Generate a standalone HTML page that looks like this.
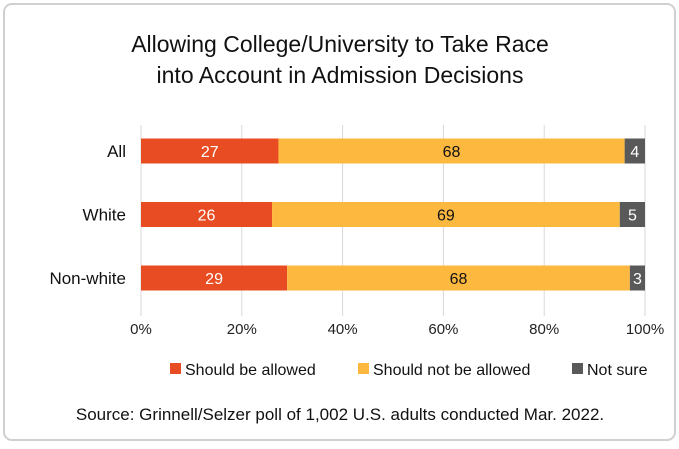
<!DOCTYPE html>
<html><head><meta charset="utf-8"><style>
body{margin:0;background:#fff;font-family:"Liberation Sans",sans-serif;}
svg text{font-family:"Liberation Sans",sans-serif;}
</style></head><body>
<svg width="679" height="444" viewBox="0 0 679 444">
<rect x="4" y="4" width="671" height="436" rx="8" fill="#fff" stroke="#d0d0d0" stroke-width="2"/>
<text x="340" y="52" font-size="23" text-anchor="middle" fill="#111">Allowing College/University to Take Race</text>
<text x="340" y="83" font-size="23" text-anchor="middle" fill="#111">into Account in Admission Decisions</text>
<g id="grid"></g><g id="bars"></g><g id="legend"></g>
<text x="340" y="420" font-size="17" text-anchor="middle" fill="#111">Source: Grinnell/Selzer poll of 1,002 U.S. adults conducted Mar. 2022.</text>
</svg>
<script>
const categories=["All","White","Non-white"];
const allowed=[27,26,29];
const notAllowed=[68,69,68];
const notSure=[4,5,3];
const ticks=[0,20,40,60,80,100];
const seriesNames=["Should be allowed","Should not be allowed","Not sure"];
const colors=["#e84c22","#fdb840","#595959"];
const NS="http://www.w3.org/2000/svg";
const x0=141,x1=645;
const xs=v=>x0+(x1-x0)*v/100;
const yc=i=>151+i*63.5;
function mk(t,a,p){const e=document.createElementNS(NS,t);for(const k in a)e.setAttribute(k,a[k]);p.appendChild(e);return e;}
const grid=document.getElementById('grid');
ticks.forEach(t=>{
  const l=mk('line',{x1:xs(t),x2:xs(t),y1:125,y2:316,stroke:'#d9d9d9','stroke-width':1},grid);
  
  
  const tx=mk('text',{x:xs(t),y:334,'font-size':15,'text-anchor':'middle',fill:'#222'},grid);
  tx.textContent=t+'%';
  
  
});
const bars=document.getElementById('bars');
const series=[allowed,notAllowed,notSure];
categories.forEach((c,i)=>{
  const lb=mk('text',{x:126,y:yc(i)+6,'font-size':17,'text-anchor':'end',fill:'#111'},bars);
  lb.textContent=c;
  
  
  const total=series.reduce((s,a)=>s+a[i],0);
  const sc=v=>v*100/total;
  let acc=0;
  series.forEach((s,j)=>{
    const v=s[i];
    const a=xs(sc(acc)),b=xs(sc(acc+v));
    const r=mk('rect',{x:a,y:yc(i)-12.5,width:b-a,height:25,fill:colors[j]},bars);
    
    
    const t=mk('text',{x:(a+b)/2,y:yc(i)+6,'font-size':16,'text-anchor':'middle',fill:j==1?'#111':'#fff'},bars);
    t.textContent=v;
    
    
    acc+=v;
  });
});
const lg=document.getElementById('legend');
const lx=[170,358,572];
seriesNames.forEach((n,j)=>{
  const r=mk('rect',{x:lx[j],y:363,width:11,height:11,fill:colors[j]},lg);
  
  
  const t=mk('text',{x:lx[j]+15,y:375,'font-size':16,fill:'#111'},lg);
  t.textContent=n;
  
  
});
</script>
</body></html>
